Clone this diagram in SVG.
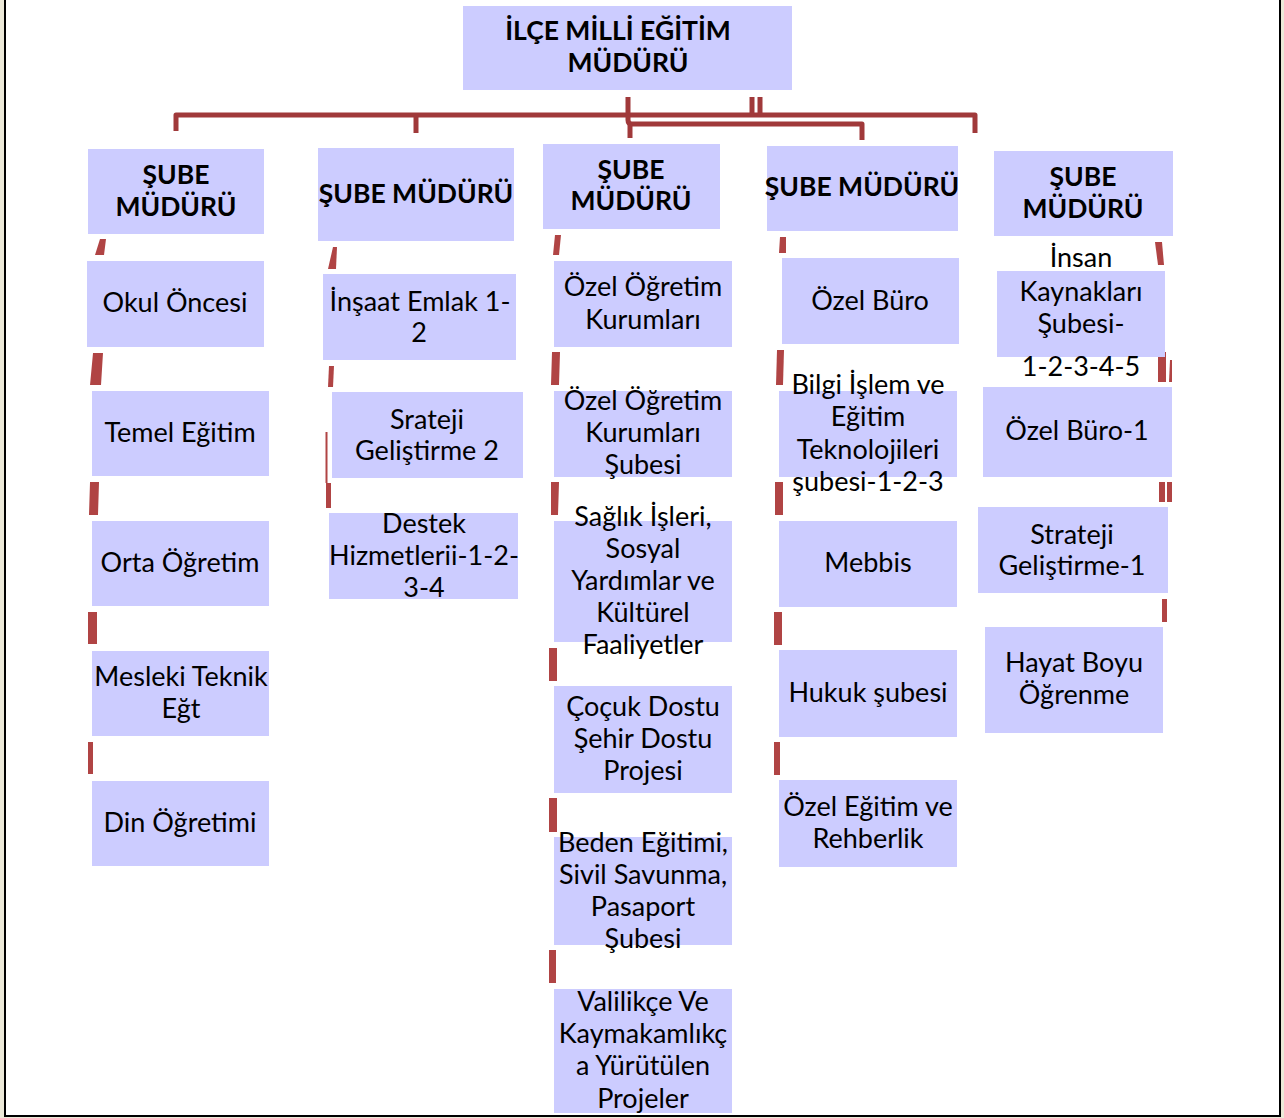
<svg xmlns="http://www.w3.org/2000/svg" width="1284" height="1118" viewBox="0 0 1284 1118">
<style>
.bx{fill:#CCCCFF}
.t{font-family:Lato,"Liberation Sans",sans-serif;font-size:27px;fill:#000;text-anchor:middle}
.b{font-weight:bold;font-size:26.5px}
.ln{fill:none;stroke:#A0393A;stroke-width:5;stroke-linejoin:round}
.d{fill:#B04444}
</style>
<rect x="0" y="0" width="1284" height="1118" fill="#ECE9D8"/>
<rect x="5" y="-5" width="1275" height="1121" fill="#FFFFFF" stroke="#000" stroke-width="2"/>
<g id="connectors">
<path class="ln" d="M176,131 V115 H975 V133"/>
<path class="ln" d="M416,115 V133"/>
<path class="ln" d="M628,97 V120 Q628,124 632,124 H862 V140"/>
<path class="ln" d="M630,124 V138"/>
<path class="ln" d="M752,97 V115 M760,97 V115"/>
<polygon class="d" points="100,239 106,239 104,255 95,255"/>
<polygon class="d" points="93,353 103,353 101,385 90,385"/>
<polygon class="d" points="90,482 99,482 98,515 89,515"/>
<polygon class="d" points="88,612 97,612 97,644 88,644"/>
<polygon class="d" points="88,742 93,742 93,774 88,774"/>
<polygon class="d" points="333,247 337,247 336,269 328,269"/>
<polygon class="d" points="329,366 334,366 333,387 328,387"/>
<rect class="d" x="325.5" y="432" width="2" height="51"/>
<polygon class="d" points="326,483 331,483 331,508 326,508"/>
<polygon class="d" points="555,235 561,235 559,255 553,255"/>
<polygon class="d" points="552,352 560,352 559,385 551,385"/>
<polygon class="d" points="551,482 559,482 558,515 551,515"/>
<rect class="d" x="549" y="648" width="8" height="33"/>
<rect class="d" x="549" y="798" width="8" height="34"/>
<rect class="d" x="549" y="950" width="7" height="33"/>
<polygon class="d" points="780,237 786,237 786,253 779,253"/>
<polygon class="d" points="777,350 784,350 783,385 776,385"/>
<polygon class="d" points="775,482 783,482 783,515 775,515"/>
<rect class="d" x="774" y="612" width="8" height="33"/>
<rect class="d" x="774" y="742" width="6" height="33"/>
<polygon class="d" points="1155,242 1162,242 1164,265 1158,265"/>
<rect class="d" x="1158" y="352" width="8" height="30"/>
<polygon class="d" points="1170,360 1172,360 1172,382 1169,382"/>
<rect class="d" x="1159" y="482" width="6" height="20"/>
<rect class="d" x="1167" y="482" width="5" height="20"/>
<rect class="d" x="1162" y="599" width="5" height="23"/>
</g>
<g id="n-top"><rect class="bx" x="463" y="6" width="329" height="84"/>
<text class="t b" x="618" y="40">İLÇE MİLLİ EĞİTİM</text><text class="t b" x="628" y="72">MÜDÜRÜ</text></g>
<g id="n-s1"><rect class="bx" x="88" y="149" width="176" height="85"/>
<text class="t b" x="176" y="184">ŞUBE</text><text class="t b" x="176" y="216">MÜDÜRÜ</text></g>
<g id="n-s2"><rect class="bx" x="318" y="148" width="196" height="93"/>
<text class="t b" x="416" y="203">ŞUBE MÜDÜRÜ</text></g>
<g id="n-s3"><rect class="bx" x="543" y="144" width="177" height="85"/>
<text class="t b" x="631" y="179">ŞUBE</text><text class="t b" x="631" y="210">MÜDÜRÜ</text></g>
<g id="n-s4"><rect class="bx" x="767" y="146" width="191" height="85"/>
<text class="t b" x="862" y="196">ŞUBE MÜDÜRÜ</text></g>
<g id="n-s5"><rect class="bx" x="994" y="151" width="179" height="85"/>
<text class="t b" x="1083" y="186">ŞUBE</text><text class="t b" x="1083" y="218">MÜDÜRÜ</text></g>

<g id="n-c1a"><rect class="bx" x="87" y="261" width="177" height="86"/><text class="t" x="175" y="312">Okul Öncesi</text></g>
<g id="n-c1b"><rect class="bx" x="92" y="391" width="177" height="85"/><text class="t" x="180" y="442">Temel Eğitim</text></g>
<g id="n-c1c"><rect class="bx" x="92" y="521" width="177" height="85"/><text class="t" x="180" y="572">Orta Öğretim</text></g>
<g id="n-c1d"><rect class="bx" x="92" y="651" width="177" height="85"/><text class="t" x="181" y="686">Mesleki Teknik</text><text class="t" x="181" y="718">Eğt</text></g>
<g id="n-c1e"><rect class="bx" x="92" y="781" width="177" height="85"/><text class="t" x="180" y="832">Din Öğretimi</text></g>

<g id="n-c2a"><rect class="bx" x="323" y="274" width="193" height="86"/><text class="t" x="420" y="311">İnşaat Emlak 1-</text><text class="t" x="419" y="342">2</text></g>
<g id="n-c2b"><rect class="bx" x="332" y="392" width="191" height="86"/><text class="t" x="427" y="429">Srateji</text><text class="t" x="427" y="460">Geliştirme 2</text></g>
<g id="n-c2c"><rect class="bx" x="329" y="513" width="189" height="86"/><text class="t" x="424" y="533">Destek</text><text class="t" x="424" y="565">Hizmetlerii-1-2-</text><text class="t" x="424" y="597">3-4</text></g>

<g id="n-c3a"><rect class="bx" x="554" y="261" width="178" height="86"/><text class="t" x="643" y="296">Özel Öğretim</text><text class="t" x="643" y="329">Kurumları</text></g>
<g id="n-c3b"><rect class="bx" x="554" y="391" width="178" height="86"/><text class="t" x="643" y="410">Özel Öğretim</text><text class="t" x="643" y="442">Kurumları</text><text class="t" x="643" y="474">Şubesi</text></g>
<g id="n-c3c"><rect class="bx" x="554" y="521" width="178" height="121"/><text class="t" x="643" y="526">Sağlık İşleri,</text><text class="t" x="643" y="558">Sosyal</text><text class="t" x="643" y="590">Yardımlar ve</text><text class="t" x="643" y="622">Kültürel</text><text class="t" x="643" y="654">Faaliyetler</text></g>
<g id="n-c3d"><rect class="bx" x="554" y="686" width="178" height="107"/><text class="t" x="643" y="716">Çoçuk Dostu</text><text class="t" x="643" y="748">Şehir Dostu</text><text class="t" x="643" y="780">Projesi</text></g>
<g id="n-c3e"><rect class="bx" x="554" y="837" width="178" height="108"/><text class="t" x="643" y="852">Beden Eğitimi,</text><text class="t" x="643" y="884">Sivil Savunma,</text><text class="t" x="643" y="916">Pasaport</text><text class="t" x="643" y="948">Şubesi</text></g>
<g id="n-c3f"><rect class="bx" x="554" y="989" width="178" height="124"/><text class="t" x="643" y="1011">Valilikçe Ve</text><text class="t" x="643" y="1043">Kaymakamlıkç</text><text class="t" x="643" y="1075">a Yürütülen</text><text class="t" x="643" y="1108">Projeler</text></g>

<g id="n-c4a"><rect class="bx" x="782" y="258" width="177" height="86"/><text class="t" x="870" y="310">Özel Büro</text></g>
<g id="n-c4b"><rect class="bx" x="779" y="391" width="178" height="86"/><text class="t" x="868" y="394">Bilgi İşlem ve</text><text class="t" x="868" y="426">Eğitim</text><text class="t" x="868" y="459">Teknolojileri</text><text class="t" x="868" y="491">şubesi-1-2-3</text></g>
<g id="n-c4c"><rect class="bx" x="779" y="521" width="178" height="86"/><text class="t" x="868" y="572">Mebbis</text></g>
<g id="n-c4d"><rect class="bx" x="779" y="650" width="178" height="87"/><text class="t" x="868" y="702">Hukuk şubesi</text></g>
<g id="n-c4e"><rect class="bx" x="779" y="780" width="178" height="87"/><text class="t" x="868" y="816">Özel Eğitim ve</text><text class="t" x="868" y="848">Rehberlik</text></g>

<g id="n-c5a"><rect class="bx" x="997" y="271" width="168" height="86"/><text class="t" x="1081" y="267">İnsan</text><text class="t" x="1081" y="301">Kaynakları</text><text class="t" x="1081" y="333">Şubesi-</text><text class="t" x="1081" y="376">1-2-3-4-5</text></g>
<g id="n-c5b"><rect class="bx" x="983" y="387" width="189" height="90"/><text class="t" x="1077" y="440">Özel Büro-1</text></g>
<g id="n-c5c"><rect class="bx" x="978" y="507" width="190" height="86"/><text class="t" x="1072" y="544">Strateji</text><text class="t" x="1072" y="575">Geliştirme-1</text></g>
<g id="n-c5d"><rect class="bx" x="985" y="627" width="178" height="106"/><text class="t" x="1074" y="672">Hayat Boyu</text><text class="t" x="1074" y="704">Öğrenme</text></g>
</svg>
